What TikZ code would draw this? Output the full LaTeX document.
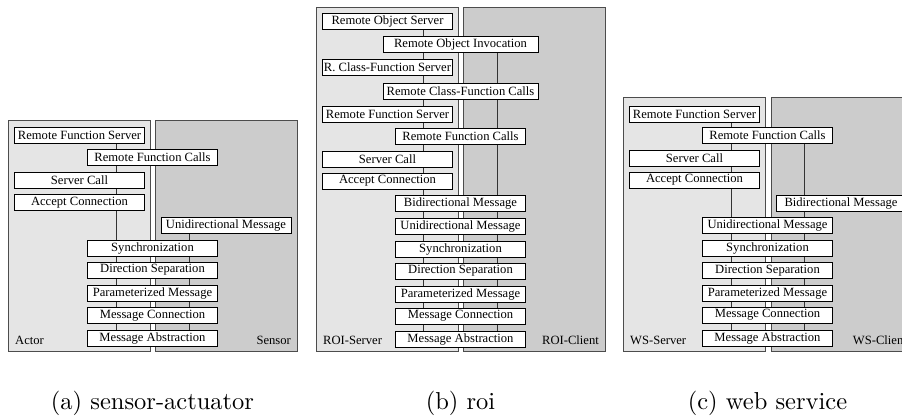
\documentclass[tikz,border=0pt]{standalone}
\usepackage{fontspec}
\newfontfamily\boxfont{Liberation Serif}
\usepackage{tikz}
\usetikzlibrary{backgrounds}

\begin{document}
\begin{tikzpicture}[
  x=1pt,y=-1pt,
  lay/.style={draw,fill=white,line width=0.7pt,minimum width=130,minimum height=16,inner sep=0pt,font={\boxfont\fontsize{12.6}{14}\selectfont}},
  wide/.style={lay,minimum width=155},
  srv/.style={draw=black!70,line width=0.8pt,fill=black!10},
  cli/.style={draw=black!70,line width=0.8pt,fill=black!20},
  ln/.style={draw=black!80,line width=0.8pt},
  tag/.style={inner sep=0pt,font={\boxfont\fontsize{12.6}{14}\selectfont}},
  subcap/.style={scale=2.45}
]
\useasboundingbox (0,0) rectangle (902,417);

% (a) sensor-actuator
\begin{scope}[xshift=8]
\node[lay] (arfs) at (71.5,135) {Remote Function Server};
\node[lay] (arfc) at (144.5,157.5) {Remote Function Calls};
\node[lay] (asc) at (71.5,180) {Server Call};
\node[lay] (aac) at (71.5,202.5) {Accept Connection};
\node[lay] (aum) at (218,225) {Unidirectional Message};
\node[lay] (asy) at (144.5,248) {Synchronization};
\node[lay] (ads) at (144.5,270) {Direction Separation};
\node[lay] (apm) at (144.5,293) {Parameterized Message};
\node[lay] (amc) at (144.5,315.5) {Message Connection};
\node[lay] (ama) at (144.5,338) {Message Abstraction};
\coordinate (al) at (108,0);
\coordinate (ar) at (181.5,0);
\begin{scope}[on background layer]
\draw[srv] (0,120) rectangle (142,351);
\draw[cli] (147,120) rectangle (289,351);
\draw[ln] (arfs.south -| al) -- (ama.north -| al);
\draw[ln] (aum.south -| ar) -- (ama.north -| ar);
\end{scope}
\node[tag,anchor=west] (aact) at (7,340) {Actor};
\node[tag,anchor=east] (asen) at (283,340) {Sensor};
\node[subcap] (acap) at (144.5,403) {(a) sensor-actuator};
\end{scope}

% (b) roi
\begin{scope}[xshift=316]
\node[lay] (bros) at (71.5,21) {Remote Object Server};
\node[wide] (broi) at (144.5,44) {Remote Object Invocation};
\node[lay] (brcs) at (71.5,67.5) {R. Class-Function Server};
\node[wide] (brcc) at (144.5,91) {Remote Class-Function Calls};
\node[lay] (brfs) at (71.5,114) {Remote Function Server};
\node[lay] (brfc) at (144.5,136) {Remote Function Calls};
\node[lay] (bsc) at (71.5,159) {Server Call};
\node[lay] (bac) at (71.5,181) {Accept Connection};
\node[lay] (bbm) at (144.5,203.5) {Bidirectional Message};
\node[lay] (bum) at (144.5,226) {Unidirectional Message};
\node[lay] (bsy) at (144.5,249) {Synchronization};
\node[lay] (bds) at (144.5,271) {Direction Separation};
\node[lay] (bpm) at (144.5,294) {Parameterized Message};
\node[lay] (bmc) at (144.5,316) {Message Connection};
\node[lay] (bma) at (144.5,339) {Message Abstraction};
\coordinate (bl) at (107,0);
\coordinate (br) at (181,0);
\begin{scope}[on background layer]
\draw[srv] (0,7) rectangle (142,351);
\draw[cli] (147,7) rectangle (289,351);
\draw[ln] (bros.south -| bl) -- (bma.north -| bl);
\draw[ln] (broi.south -| br) -- (bma.north -| br);
\end{scope}
\node[tag,anchor=west] (bsrv) at (7,340) {ROI-Server};
\node[tag,anchor=east] (bcli) at (283,340) {ROI-Client};
\node[subcap] (bcap) at (144.5,403) {(b) roi};
\end{scope}

% (c) web service
\begin{scope}[xshift=623]
\node[lay] (crfs) at (71.5,114.5) {Remote Function Server};
\node[lay] (crfc) at (144.5,135.5) {Remote Function Calls};
\node[lay] (csc) at (71.5,158) {Server Call};
\node[lay] (cac) at (71.5,180) {Accept Connection};
\node[lay] (cbm) at (218,203) {Bidirectional Message};
\node[lay] (cum) at (144.5,225) {Unidirectional Message};
\node[lay] (csy) at (144.5,248) {Synchronization};
\node[lay] (cds) at (144.5,270.5) {Direction Separation};
\node[lay] (cpm) at (144.5,293) {Parameterized Message};
\node[lay] (cmc) at (144.5,315) {Message Connection};
\node[lay] (cma) at (144.5,338.5) {Message Abstraction};
\coordinate (cl) at (108,0);
\coordinate (cr) at (181,0);
\begin{scope}[on background layer]
\draw[srv] (0,97) rectangle (142,351);
\draw[cli] (148,97) rectangle (290,351);
\draw[ln] (crfs.south -| cl) -- (cma.north -| cl);
\draw[ln] (crfc.south -| cr) -- (cma.north -| cr);
\end{scope}
\node[tag,anchor=west] (csrv) at (7,340) {WS-Server};
\node[tag,anchor=east] (ccli) at (284,340) {WS-Client};
\node[subcap] (ccap) at (144.5,403) {(c) web service};
\end{scope}
\end{tikzpicture}
\end{document}
